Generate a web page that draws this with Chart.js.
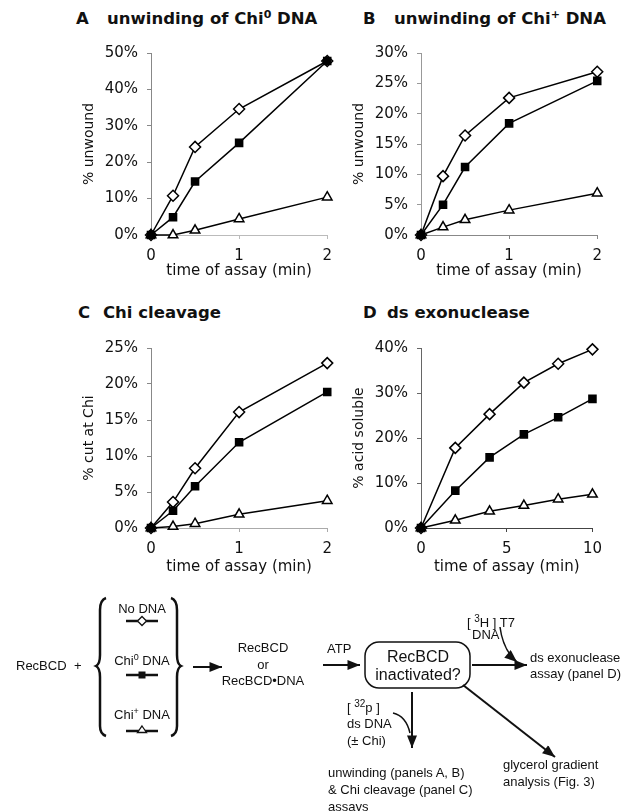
<!DOCTYPE html>
<html lang="en">
<head>
<meta charset="UTF-8">
<title>RecBCD inactivation assays</title>
<script src="https://cdn.jsdelivr.net/npm/chart.js"></script>
<style>
  body { margin: 0; background: #fff; }
  #fig { position: relative; width: 625px; height: 811px; overflow: hidden; }
  canvas { position: absolute; }
  .ptitle { position: absolute; font: bold 16.5px "DejaVu Sans", sans-serif; color: #111; white-space: nowrap; line-height: 20px; }
  .ptitle .lt { display: inline-block; width: 31px; }
  .ptitle sup { font-size: 11px; vertical-align: 6px; line-height: 0; }
  svg { position: absolute; left: 0; top: 0; }
  svg text { font-family: "Liberation Sans", Arial, sans-serif; font-size: 13px; fill: #111; }
</style>
</head>
<body>
<div id="fig">
  <div class="ptitle" style="left:76px; top:9px"><span class="lt">A</span>unwinding of Chi<sup>0</sup> DNA</div>
  <div class="ptitle" style="left:363px; top:9px"><span class="lt">B</span>unwinding of Chi<sup>+</sup> DNA</div>
  <div class="ptitle" style="left:78px; top:303px"><span class="lt" style="width:25px">C</span>Chi cleavage</div>
  <div class="ptitle" style="left:363px; top:303px"><span class="lt" style="width:24px">D</span>ds exonuclease</div>

  <canvas id="chartA" width="280" height="250" style="left:60px; top:35px"></canvas>
  <canvas id="chartB" width="280" height="250" style="left:330px; top:35px"></canvas>
  <canvas id="chartC" width="280" height="250" style="left:60px; top:330px"></canvas>
  <canvas id="chartD" width="280" height="250" style="left:330px; top:330px"></canvas>

  <svg width="625" height="811" viewBox="0 0 625 811">
    <defs>
      <marker id="head" viewBox="0 0 10 8" refX="10" refY="4" markerWidth="14" markerHeight="10" markerUnits="userSpaceOnUse" orient="auto">
        <path d="M0,0 L10,4 L0,8 z" fill="#111"/>
      </marker>
    </defs>

    <!-- left side -->
    <text x="16" y="670">RecBCD</text>
    <text x="74" y="670">+</text>
    <path d="M106 598 Q100 600 100 610 L100 655 Q100 664 96 666 Q100 668 100 677 L100 726 Q100 734 106 736" fill="none" stroke="#111" stroke-width="2.5"/>
    <path d="M171 598 Q177 600 177 610 L177 655 Q177 664 181 666 Q177 668 177 677 L177 726 Q177 734 171 736" fill="none" stroke="#111" stroke-width="2.5"/>

    <text x="142" y="613" text-anchor="middle">No DNA</text>
    <line x1="126" y1="621" x2="158" y2="621" stroke="#111" stroke-width="2.5"/>
    <path d="M142 616.5 L146.5 621 L142 625.5 L137.5 621 z" fill="#fff" stroke="#111" stroke-width="1.3"/>

    <text x="142" y="665" text-anchor="middle">Chi<tspan dy="-5" font-size="9">0</tspan><tspan dy="5"> DNA</tspan></text>
    <line x1="126" y1="675" x2="158" y2="675" stroke="#111" stroke-width="2.5"/>
    <rect x="138.5" y="671.5" width="7" height="7" fill="#111"/>

    <text x="142" y="719" text-anchor="middle">Chi<tspan dy="-5" font-size="9">+</tspan><tspan dy="5"> DNA</tspan></text>
    <line x1="126" y1="731" x2="158" y2="731" stroke="#111" stroke-width="2.5"/>
    <path d="M142 726 L146.5 732.5 L137.5 732.5 z" fill="#fff" stroke="#111" stroke-width="1.3"/>

    <line x1="193" y1="667" x2="222" y2="667" stroke="#111" stroke-width="2" marker-end="url(#head)"/>
    <text x="263" y="652" text-anchor="middle">RecBCD</text>
    <text x="263" y="669" text-anchor="middle">or</text>
    <text x="263" y="685" text-anchor="middle">RecBCD•DNA</text>

    <!-- ATP step -->
    <text x="327" y="653">ATP</text>
    <line x1="323" y1="665" x2="360" y2="665" stroke="#111" stroke-width="2" marker-end="url(#head)"/>
    <rect x="365" y="642" width="105" height="46" rx="14" fill="#fff" stroke="#111" stroke-width="1.5"/>
    <text x="418" y="662" text-anchor="middle" style="font-size:16px">RecBCD</text>
    <text x="418" y="680" text-anchor="middle" style="font-size:16px">inactivated?</text>

    <!-- exonuclease branch -->
    <line x1="472" y1="665" x2="527" y2="665" stroke="#111" stroke-width="2" marker-end="url(#head)"/>
    <text x="467" y="627">[ <tspan dy="-5" font-size="10">3</tspan><tspan dy="5">H ] T7</tspan></text>
    <text x="472" y="639">DNA</text>
    <path d="M500 627 Q503 650 517 662" fill="none" stroke="#111" stroke-width="1.5" marker-end="url(#head)"/>
    <text x="530" y="662">ds exonuclease</text>
    <text x="530" y="678">assay (panel D)</text>

    <!-- unwinding branch -->
    <line x1="412" y1="692" x2="412" y2="748" stroke="#111" stroke-width="2" marker-end="url(#head)"/>
    <text x="347" y="712">[ <tspan dy="-5" font-size="10">32</tspan><tspan dy="5">p ]</tspan></text>
    <text x="347" y="728">ds DNA</text>
    <text x="347" y="745">(± Chi)</text>
    <path d="M393 713 Q406 716 410 733" fill="none" stroke="#111" stroke-width="1.5"/>
    <text x="328" y="777">unwinding (panels A, B)</text>
    <text x="328" y="794">&amp; Chi cleavage (panel C)</text>
    <text x="328" y="811">assays</text>

    <!-- glycerol branch -->
    <line x1="463" y1="685" x2="555" y2="757" stroke="#111" stroke-width="2" marker-end="url(#head)"/>
    <text x="503" y="769">glycerol gradient</text>
    <text x="503" y="786">analysis (Fig. 3)</text>
  </svg>
</div>

<script>
// time points (min)
const timeShort = [0, 0.25, 0.5, 1, 2];
const timeExo = [0, 2, 4, 6, 8, 10];

// A: unwinding of Chi0 DNA (%)
const unwindChi0NoDNA = [0, 10.8, 24.2, 34.6, 47.8];
const unwindChi0Chi0 = [0, 4.9, 14.7, 25.3, 47.8];
const unwindChi0ChiPlus = [0, 0, 1.3, 4.4, 10.4];

// B: unwinding of Chi+ DNA (%)
const unwindChiPlusNoDNA = [0, 9.7, 16.4, 22.6, 26.9];
const unwindChiPlusChi0 = [0, 5.0, 11.2, 18.4, 25.4];
const unwindChiPlusChiPlus = [0, 1.3, 2.5, 4.1, 6.9];

// C: Chi cleavage (%)
const cleaveNoDNA = [0, 3.6, 8.3, 16.1, 22.9];
const cleaveChi0 = [0, 2.4, 5.8, 11.9, 18.9];
const cleaveChiPlus = [0, 0.2, 0.6, 1.9, 3.8];

// D: ds exonuclease (%)
const exoNoDNA = [0, 17.8, 25.3, 32.3, 36.5, 39.7];
const exoChi0 = [0, 8.3, 15.7, 20.8, 24.6, 28.7];
const exoChiPlus = [0, 1.7, 3.7, 5.0, 6.4, 7.5];

// tick labels
const xTicksShort = [0, 1, 2];
const xTicksExo = [0, 5, 10];
const yTicksA = [0, 10, 20, 30, 40, 50];
const yTicksB = [0, 5, 10, 15, 20, 25, 30];
const yTicksC = [0, 5, 10, 15, 20, 25];
const yTicksD = [0, 10, 20, 30, 40];

const xTitle = "time of assay (min)";

Chart.defaults.font.family = "'DejaVu Sans', sans-serif";
Chart.defaults.color = "#111";

function series(xs, ys, style, fill, radius) {
    return {
        data: xs.map((x, i) => ({ x: x, y: ys[i] })),
        borderColor: "#000",
        borderWidth: 1.5,
        tension: 0,
        clip: false,
        pointStyle: style,
        pointRadius: radius,
        pointBackgroundColor: fill,
        pointBorderColor: "#000",
        pointBorderWidth: 1.5
    };
}

function makePanel(id, xs, noDna, chi0, chiPlus, xTicks, yTicks, yTitle, o) {
    new Chart(document.getElementById(id), {
        type: "line",
        data: {
            // first dataset is drawn on top, so the filled square sits over the diamond
            datasets: [
                series(xs, chi0, "rect", "#000", 5),
                series(xs, chiPlus, "triangle", "#fff", 5.5),
                series(xs, noDna, "rectRot", "#fff", 5.5)
            ]
        },
        options: {
            responsive: false,
            animation: false,
            layout: { padding: { top: o.padTop, right: o.padRight, left: 0, bottom: 0 } },
            plugins: { legend: { display: false }, tooltip: { enabled: false } },
            scales: {
                x: {
                    type: "linear",
                    min: xTicks[0],
                    max: xTicks[xTicks.length - 1],
                    afterBuildTicks: s => { s.ticks = xTicks.map(v => ({ value: v })); },
                    afterFit: s => { s.height = o.xHeight; },
                    grid: { drawOnChartArea: false, drawTicks: true, tickLength: 4, color: o.xColor },
                    border: { color: o.xColor, dash: o.xDash },
                    ticks: { font: { size: 15 }, padding: 8, maxRotation: 0 },
                    title: { display: true, text: xTitle, font: { size: 15 }, padding: { top: 0, bottom: o.xTitlePad } }
                },
                y: {
                    min: yTicks[0],
                    max: yTicks[yTicks.length - 1],
                    afterBuildTicks: s => { s.ticks = yTicks.map(v => ({ value: v })); },
                    afterFit: s => { s.width = 91; },
                    grid: { drawOnChartArea: false, drawTicks: true, tickLength: 4, color: o.yColor },
                    border: { color: o.yColor, dash: o.yDash },
                    ticks: { font: { size: 15 }, padding: 9, callback: v => v + "%" },
                    title: { display: true, text: yTitle, font: { size: 14 }, padding: { top: 21, bottom: 0 } }
                }
            }
        }
    });
}

makePanel("chartA", timeShort, unwindChi0NoDNA, unwindChi0Chi0, unwindChi0ChiPlus,
    xTicksShort, yTicksA, "% unwound",
    { padTop: 13, padRight: 9, xHeight: 50, xTitlePad: 5, xColor: "#bbb", xDash: [2, 3], yColor: "#888", yDash: [1, 1] });

makePanel("chartB", timeShort, unwindChiPlusNoDNA, unwindChiPlusChi0, unwindChiPlusChiPlus,
    xTicksShort, yTicksB, "% unwound",
    { padTop: 12, padRight: 8, xHeight: 50, xTitlePad: 5, xColor: "#888", xDash: [], yColor: "#999", yDash: [3, 2] });

makePanel("chartC", timeShort, cleaveNoDNA, cleaveChi0, cleaveChiPlus,
    xTicksShort, yTicksC, "% cut at Chi",
    { padTop: 12, padRight: 9, xHeight: 52, xTitlePad: 4, xColor: "#aaa", xDash: [4, 4], yColor: "#888", yDash: [1, 1] });

makePanel("chartD", timeExo, exoNoDNA, exoChi0, exoChiPlus,
    xTicksExo, yTicksD, "% acid soluble",
    { padTop: 13, padRight: 15, xHeight: 52, xTitlePad: 4, xColor: "#444", xDash: [], yColor: "#666", yDash: [] });
</script>
</body>
</html>
